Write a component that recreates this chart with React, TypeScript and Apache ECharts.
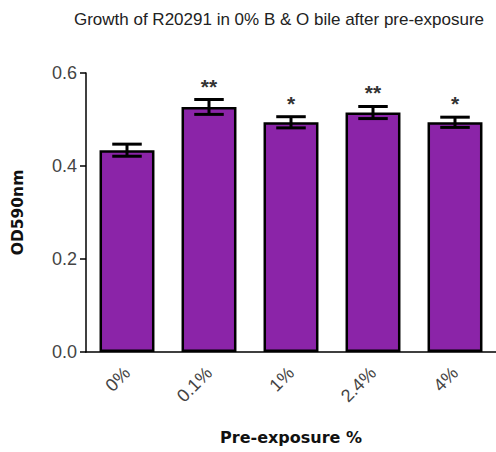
import React, { useEffect, useRef } from "react";
import * as echarts from "echarts";

const categories = ["0%", "0.1%", "1%", "2.4%", "4%"];
const means = [0.434, 0.527, 0.494, 0.515, 0.494];
const errors = [0.013, 0.016, 0.012, 0.013, 0.011];
const stars = ["", "**", "*", "**", "*"];
const yTicks = [0, 0.2, 0.4, 0.6];

export default function App() {
  const ref = useRef<HTMLDivElement>(null);
  useEffect(() => {
    if (!ref.current) return;
    const chart = echarts.init(ref.current, undefined, { renderer: "svg" });
    const errData = means.map((m, i) => [i, m - errors[i], m + errors[i], m]);
    chart.setOption({
      animation: false,
      title: {
        text: "Growth of R20291 in 0% B & O bile after pre-exposure",
        left: 274,
        top: 6,
        textAlign: "center",
        textStyle: { fontFamily: "Liberation Sans", fontSize: 17, fontWeight: "normal", color: "#222" },
      },
      grid: { left: 86, top: 73, width: 417, height: 279, containLabel: false },
      xAxis: {
        type: "category",
        data: categories,
        name: "Pre-exposure %",
        nameLocation: "middle",
        nameGap: 77,
        nameTextStyle: { fontFamily: "DejaVu Sans", fontSize: 16, fontWeight: "bold", color: "#111" },
        axisLine: { lineStyle: { color: "#000", width: 1.5 } },
        axisTick: { alignWithLabel: true, length: 6, lineStyle: { color: "#000", width: 1.5 } },
        axisLabel: { rotate: 45, fontFamily: "Liberation Sans", fontSize: 18, color: "#444", margin: 18 },
      },
      yAxis: {
        type: "value",
        min: 0,
        max: 0.6,
        interval: 0.2,
        name: "OD590nm",
        nameLocation: "middle",
        nameGap: 60,
        nameTextStyle: { fontFamily: "DejaVu Sans", fontSize: 15.5, fontWeight: "bold", color: "#111" },
        axisLine: { show: true, lineStyle: { color: "#000", width: 1.5 } },
        axisTick: { show: true, length: 6, lineStyle: { color: "#000", width: 1.5 } },
        splitLine: { show: false },
        axisLabel: {
          fontFamily: "Liberation Sans",
          fontSize: 18,
          color: "#444",
          margin: 9,
          formatter: (v: number) => (yTicks.some((t) => Math.abs(t - v) < 1e-9) ? v.toFixed(1) : ""),
        },
      },
      series: [
        {
          type: "bar",
          data: means,
          barWidth: "67%",
          itemStyle: { color: "#8B24A8", borderColor: "#000", borderWidth: 2.5 },
        },
        {
          type: "custom",
          data: errData,
          z: 10,
          renderItem: (params: any, api: any) => {
            const x = api.value(0);
            const lo = api.coord([x, api.value(1)]);
            const hi = api.coord([x, api.value(2)]);
            const band = api.size([1, 0])[0];
            const hw = band * 0.18;
            const ls = { stroke: "#000", lineWidth: 3 };
            const idx = params.dataIndex;
            return {
              type: "group",
              children: [
                { type: "line", shape: { x1: hi[0], y1: hi[1], x2: lo[0], y2: lo[1] }, style: ls },
                { type: "line", shape: { x1: hi[0] - hw, y1: hi[1], x2: hi[0] + hw, y2: hi[1] }, style: ls },
                { type: "line", shape: { x1: lo[0] - hw, y1: lo[1], x2: lo[0] + hw, y2: lo[1] }, style: ls },
                {
                  type: "text",
                  x: hi[0],
                  y: hi[1] - 3,
                  style: {
                    text: stars[idx],
                    fontFamily: "Liberation Sans",
                    fontSize: 21,
                    fontWeight: "bold",
                    fill: "#333",
                    align: "center",
                    verticalAlign: "bottom",
                  },
                },
              ],
            };
          },
        },
      ],
    });
    return () => chart.dispose();
  }, []);
  return (
    <div
      ref={ref}
      style={{ position: "fixed", left: 0, top: 0, width: 496, height: 452, background: "#fff" }}
    />
  );
}
